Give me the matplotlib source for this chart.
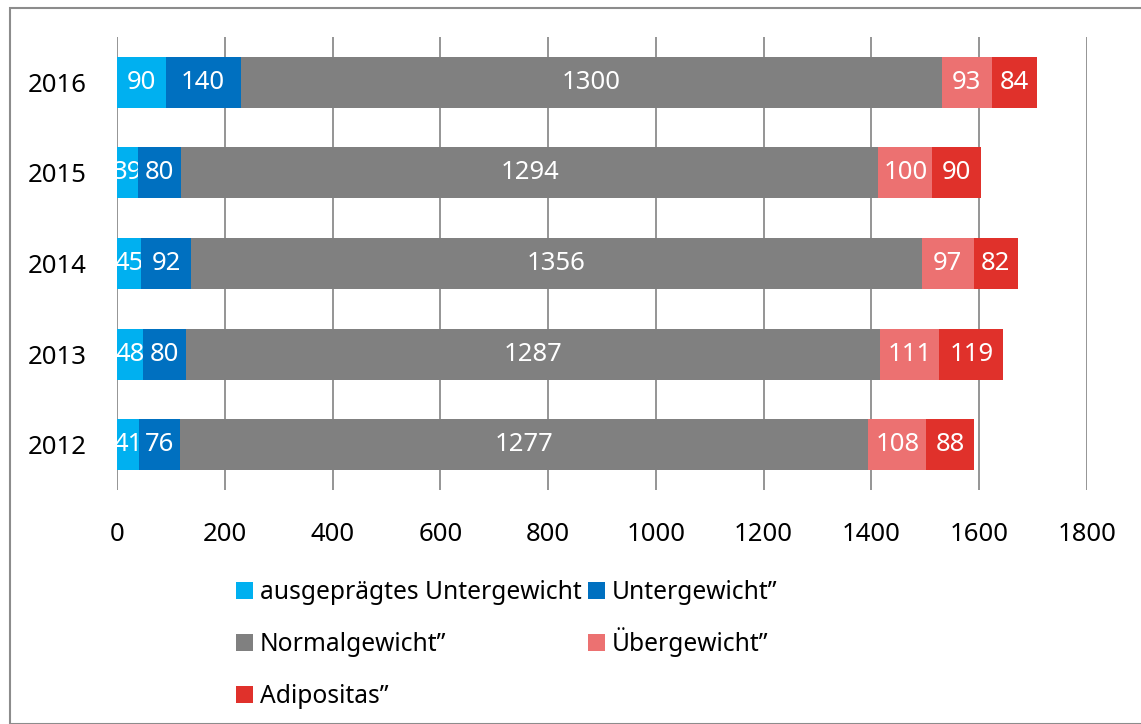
import matplotlib
matplotlib.use("Agg")
import matplotlib.pyplot as plt
from matplotlib.patches import Rectangle

plt.rcParams['font.family'] = ['Noto Sans', 'DejaVu Sans']

years = ['2012', '2013', '2014', '2015', '2016']
labels = ['ausgeprägtes Untergewicht', 'Untergewicht”', 'Normalgewicht”',
          'Übergewicht”', 'Adipositas”']
colors = ['#00B0F0', '#0070C0', '#808080', '#EC7171', '#E0312B']

ausg_unter = [41, 48, 45, 39, 90]
unter = [76, 80, 92, 80, 140]
normal = [1277, 1287, 1356, 1294, 1300]
ueber = [108, 111, 97, 100, 93]
adipos = [88, 119, 82, 90, 84]
series = [ausg_unter, unter, normal, ueber, adipos]

W, H = 1141, 724
fig = plt.figure(figsize=(W / 100, H / 100), dpi=100)
ax = fig.add_axes([117 / W, 1 - 490 / H, 970 / W, 453 / H])

left = [0] * len(years)
for vals, lab, col in zip(series, labels, colors):
    bars = ax.barh(years, vals, left=left, height=0.565, color=col,
                   linewidth=0, label=lab, zorder=3)
    ax.bar_label(bars, labels=[str(v) for v in vals], label_type='center',
                 color='white', fontsize=18.5)
    left = [a + b for a, b in zip(left, vals)]

ax.set_xlim(0, 1800)
ax.set_ylim(-0.5, 4.5)
ax.set_xticks(range(0, 1801, 200))
ax.grid(axis='x', color='#8c8c8c', linewidth=1.3, zorder=0)
ax.grid(axis='y', visible=False)
for s in ax.spines.values():
    s.set_visible(False)
ax.tick_params(axis='both', length=0, labelsize=18.5)
ax.tick_params(axis='x', pad=23)
ax.tick_params(axis='y', pad=22)

# legend, row by row like the original (two columns)
leg_order = [0, 1, 2, 3, 4]
col_x = [236, 588]
row_base = [599, 651, 703]
for k, i in enumerate(leg_order):
    r, c = divmod(k, 2)
    x0, yb = col_x[c], row_base[r]
    fig.patches.append(Rectangle((x0 / W, 1 - yb / H), 17 / W, 17 / H,
                                 transform=fig.transFigure,
                                 facecolor=colors[i], edgecolor='none'))
    fig.text((x0 + 24) / W, 1 - yb / H, labels[i], fontsize=17.7,
             va='baseline', ha='left')

fig.patches.append(Rectangle((10 / W, 0), 1.2, 1 - 8 / H,
                             transform=fig.transFigure, fill=False,
                             edgecolor='#8c8c8c', linewidth=1.5))

fig.savefig('out.png', dpi=100)
